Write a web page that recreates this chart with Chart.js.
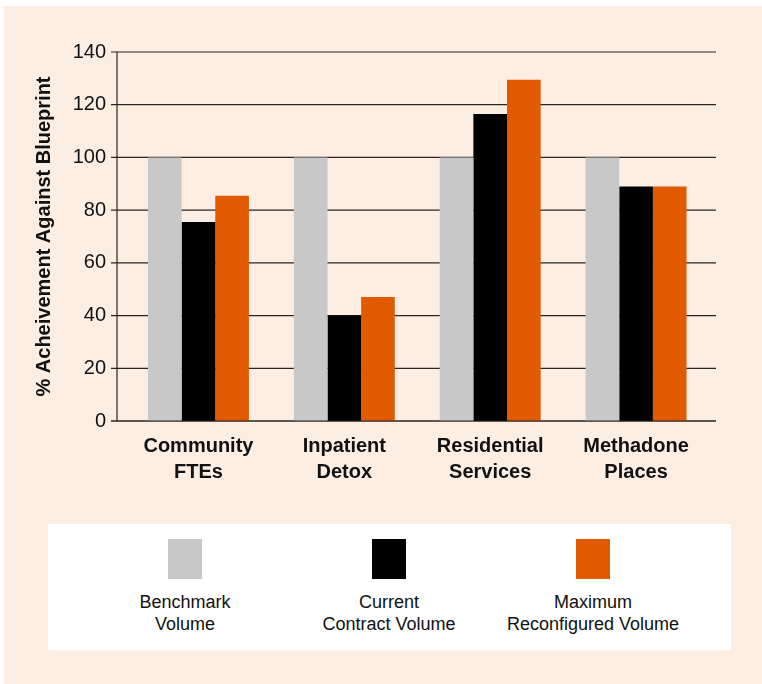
<!DOCTYPE html>
<html>
<head>
<meta charset="utf-8">
<title>Achievement against blueprint</title>
<script src="https://cdn.jsdelivr.net/npm/chart.js@4.4.1/dist/chart.umd.min.js"></script>
<style>
  html, body { margin: 0; padding: 0; background: #fff; }
  #panel { position: absolute; left: 4px; top: 6px; width: 758px; height: 678px; background: #fdeee4; }
  #wrap { position: absolute; left: 0; top: 0; width: 762px; height: 684px; }
  #legend {
    position: absolute; left: 48px; top: 524px; width: 683px; height: 126px;
    background: #fff; display: flex; padding-left: 35px; box-sizing: border-box;
    font-family: 'Liberation Sans', Arial, sans-serif; font-size: 18px; line-height: 22px; color: #111;
  }
  .item { width: 204px; display: flex; flex-direction: column; align-items: center; text-align: center; }
  .swatch { width: 34px; height: 40px; margin-top: 15px; margin-bottom: 12px; }
</style>
</head>
<body>
<div id="panel"></div>
<div id="wrap"><canvas id="blueprintChart"></canvas></div>
<div id="legend"></div>

<script>
'use strict';

// --- data ---
const CATEGORIES = [['Community', 'FTEs'], ['Inpatient', 'Detox'], ['Residential', 'Services'], ['Methadone', 'Places']];
const SERIES_NAMES = [['Benchmark', 'Volume'], ['Current', 'Contract Volume'], ['Maximum', 'Reconfigured Volume']];
const BENCHMARK = [100, 100, 100, 100];
const CURRENT = [75.5, 40, 116.5, 89];
const MAXIMUM = [85.5, 47, 129.5, 89];
const Y_TICKS = [0, 20, 40, 60, 80, 100, 120, 140];
const COLORS = ['#c8c8c8', '#000000', '#e25a00'];

const FONT = "'Liberation Sans', Arial, sans-serif";

// gridlines + axis line sit a little left of the category area, like the original
const gridPlugin = {
  id: 'blueprintGrid',
  beforeDatasetsDraw(chart) {
    const { ctx, chartArea, scales: { y } } = chart;
    const axisX = chartArea.left - 8.5;
    ctx.save();
    ctx.strokeStyle = '#2a2420';
    ctx.lineWidth = 1.2;
    Y_TICKS.forEach(v => {
      const py = y.getPixelForValue(v);
      ctx.beginPath();
      ctx.moveTo(axisX - 6, py);
      ctx.lineTo(chartArea.right + 7, py);
      ctx.stroke();
    });
    ctx.beginPath();
    ctx.moveTo(axisX, y.getPixelForValue(Y_TICKS[Y_TICKS.length - 1]));
    ctx.lineTo(axisX, y.getPixelForValue(0));
    ctx.stroke();
    ctx.restore();
  },
  afterDatasetsDraw(chart) {
    const { ctx, chartArea, scales: { y } } = chart;
    const py = y.getPixelForValue(0);
    ctx.save();
    ctx.strokeStyle = '#2a2420';
    ctx.lineWidth = 1.2;
    ctx.beginPath();
    ctx.moveTo(chartArea.left - 14.5, py);
    ctx.lineTo(chartArea.right + 7, py);
    ctx.stroke();
    ctx.restore();
  },
};

const datasets = [BENCHMARK, CURRENT, MAXIMUM].map((data, i) => ({
  label: SERIES_NAMES[i].join(' '),
  data,
  backgroundColor: COLORS[i],
  borderWidth: 0,
  categoryPercentage: 0.692,
  barPercentage: 1,
}));

new Chart(document.getElementById('blueprintChart').getContext('2d'), {
  type: 'bar',
  data: { labels: CATEGORIES, datasets },
  plugins: [gridPlugin],
  options: {
    responsive: true,
    maintainAspectRatio: false,
    animation: false,
    layout: { padding: { left: 32, top: 52, right: 53, bottom: 183 } },
    plugins: { legend: { display: false }, tooltip: { enabled: false } },
    scales: {
      x: {
        grid: { display: false },
        border: { display: false },
        ticks: { color: '#111', padding: 4, font: { family: FONT, size: 20, weight: 'bold', lineHeight: 1.3 } },
        afterFit: s => { s.height = 80; },
      },
      y: {
        min: 0,
        max: 140,
        grid: { display: false },
        border: { display: false },
        ticks: { stepSize: 20, color: '#111', padding: 11.5, font: { family: FONT, size: 20 } },
        title: {
          display: true,
          text: '% Acheivement Against Blueprint',
          color: '#111',
          padding: { top: 0, bottom: 0 },
          font: { family: FONT, size: 20, weight: 'bold' },
        },
        afterFit: s => { s.width = 93.5; },
      },
    },
  },
});

// --- legend (swatch above two-line caption) ---
const legend = document.getElementById('legend');
SERIES_NAMES.forEach((lines, i) => {
  const item = document.createElement('div');
  item.className = 'item';
  const sw = document.createElement('div');
  sw.className = 'swatch';
  sw.style.background = COLORS[i];
  item.appendChild(sw);
  lines.forEach(t => {
    const d = document.createElement('div');
    d.textContent = t;
    item.appendChild(d);
  });
  legend.appendChild(item);
});
</script>
</body>
</html>
